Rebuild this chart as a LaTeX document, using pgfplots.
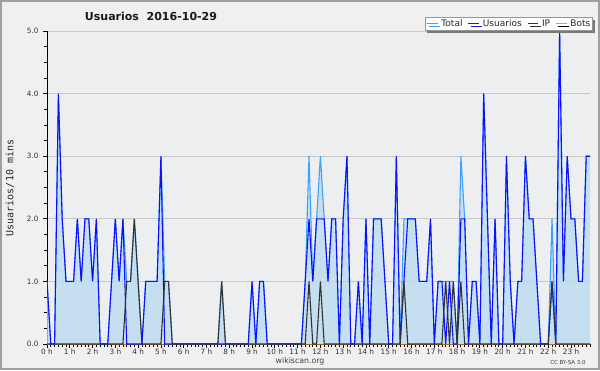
\documentclass[border=0pt]{standalone}
\usepackage{fontspec}
\setmainfont{DejaVu Sans}
\newfontfamily\monofont{DejaVu Sans Mono}
\usepackage{pgfplots}
\usepackage{pgfplotstable}
\pgfplotsset{compat=1.18}
\usetikzlibrary{shadows}

\definecolor{outerbg}{RGB}{240,240,240}
\definecolor{framegray}{RGB}{160,160,160}
\definecolor{plotbg}{RGB}{237,238,240}
\definecolor{gridgray}{RGB}{200,200,200}
\definecolor{fillblue}{RGB}{188,218,240}
\definecolor{totalblue}{RGB}{60,160,255}
\definecolor{userblue}{RGB}{15,15,255}
\definecolor{ipgray}{RGB}{50,50,50}
\definecolor{botsorange}{RGB}{255,153,0}
\definecolor{shadowgray}{RGB}{120,120,120}
\definecolor{legendframe}{RGB}{150,150,150}

% index (10-minute slot), Usuarios, IP, Bots, Total
\pgfplotstableread{
i U IP B T
0 1 0 0 1
1 0 0 0 0
2 0 0 0 0
3 4 0 0 4
4 2 0 0 2
5 1 0 0 1
6 1 0 0 1
7 1 0 0 1
8 2 0 0 2
9 1 0 0 1
10 2 0 0 2
11 2 0 0 2
12 1 0 0 1
13 2 0 0 2
14 0 0 0 0
15 0 0 0 0
16 0 0 0 0
17 1 0 0 1
18 2 0 0 2
19 1 0 0 1
20 2 0 0 2
21 0 1 0 1
22 0 1 0 1
23 0 2 0 2
24 0 1 0 1
25 0 0 0 0
26 1 0 0 1
27 1 0 0 1
28 1 0 0 1
29 1 0 0 1
30 3 0 0 3
31 0 1 0 1
32 0 1 0 1
33 0 0 0 0
34 0 0 0 0
35 0 0 0 0
36 0 0 0 0
37 0 0 0 0
38 0 0 0 0
39 0 0 0 0
40 0 0 0 0
41 0 0 0 0
42 0 0 0 0
43 0 0 0 0
44 0 0 0 0
45 0 0 0 0
46 0 1 0 1
47 0 0 0 0
48 0 0 0 0
49 0 0 0 0
50 0 0 0 0
51 0 0 0 0
52 0 0 0 0
53 0 0 0 0
54 1 0 0 1
55 0 0 0 0
56 1 0 0 1
57 1 0 0 1
58 0 0 0 0
59 0 0 0 0
60 0 0 0 0
61 0 0 0 0
62 0 0 0 0
63 0 0 0 0
64 0 0 0 0
65 0 0 0 0
66 0 0 0 0
67 0 0 0 0
68 1 0 0 1
69 2 1 0 3
70 1 0 0 1
71 2 0 0 2
72 2 1 0 3
73 2 0 0 2
74 1 0 0 1
75 2 0 0 2
76 2 0 0 2
77 0 0 0 0
78 2 0 0 2
79 3 0 0 3
80 0 0 0 0
81 0 0 0 0
82 1 0 0 1
83 0 0 0 0
84 2 0 0 2
85 0 0 0 0
86 2 0 0 2
87 2 0 0 2
88 2 0 0 2
89 1 0 0 1
90 0 0 0 0
91 0 0 0 0
92 3 0 0 3
93 0 0 0 0
94 1 1 0 2
95 2 0 0 2
96 2 0 0 2
97 2 0 0 2
98 1 0 0 1
99 1 0 0 1
100 1 0 0 1
101 2 0 0 2
102 0 0 0 0
103 1 0 0 1
104 1 0 0 1
105 0 1 0 1
106 1 0 0 1
107 0 1 0 1
108 0 0 0 0
109 2 1 0 3
110 2 0 0 2
111 0 0 0 0
112 1 0 0 1
113 1 0 0 1
114 0 0 0 0
115 4 0 0 4
116 2 0 0 2
117 0 0 0 0
118 2 0 0 2
119 0 0 0 0
120 0 0 0 0
121 3 0 0 3
122 1 0 0 1
123 0 0 0 0
124 1 0 0 1
125 1 0 0 1
126 3 0 0 3
127 2 0 0 2
128 2 0 0 2
129 1 0 0 1
130 0 0 0 0
131 0 0 0 0
132 0 0 0 0
133 1 1 0 2
134 0 0 0 0
135 5 0 0 5
136 1 0 0 1
137 3 0 0 3
138 2 0 0 2
139 2 0 0 2
140 1 0 0 1
141 1 0 0 1
142 3 0 0 3
143 3 0 0 3
}\datatable

\begin{document}
\begin{tikzpicture}
\fill[outerbg] (0pt,0pt) rectangle (600pt,370pt);
\draw[framegray, line width=2pt] (1pt,1pt) rectangle (599pt,369pt);

\begin{axis}[
  at={(47pt,26pt)}, anchor=south west,
  scale only axis, width=543pt, height=313pt,
  xmin=0, xmax=143, ymin=0, ymax=5,
  axis x line*=bottom, axis y line*=left,
  axis line style={black, line width=1pt},
  axis background/.style={fill=plotbg},
  xtick={0,6,...,138},
  xticklabels={0 h,1 h,2 h,3 h,4 h,5 h,6 h,7 h,8 h,9 h,10 h,11 h,12 h,13 h,14 h,15 h,16 h,17 h,18 h,19 h,20 h,21 h,22 h,23 h},
  minor xtick={0,1,...,143},
  ytick={0,1,2,3,4,5},
  minor ytick={0.25,0.5,0.75,1.25,1.5,1.75,2.25,2.5,2.75,3.25,3.5,3.75,4.25,4.5,4.75},
  tick align=outside,
  major tick length=4pt, minor tick length=3pt,
  every tick/.style={black, line width=0.8pt},
  ymajorgrids, grid style={gridgray, line width=1pt},
  /pgf/number format/assume math mode=true,
  yticklabel style={/pgf/number format/fixed, /pgf/number format/fixed zerofill, /pgf/number format/precision=1, font=\fontsize{7.3}{8}\selectfont, text=black!80, xshift=-1pt},
  xticklabel style={font=\fontsize{7.3}{8}\selectfont, text=black!80, yshift=2.5pt},
  legend columns=4,
  legend style={at={(axis description cs:1.0055,1.045)}, anchor=north east,
    draw=legendframe, fill=white, line width=0.8pt, inner sep=1.5pt,
    nodes={inner sep=0.8pt, text=black!85},
    font=\fontsize{9}{10}\selectfont,
    drop shadow={shadow xshift=2.5pt, shadow yshift=-2.5pt, fill=shadowgray, opacity=1},
    /tikz/every even column/.append style={column sep=4.5pt},
    /tikz/every odd column/.append style={column sep=2.5pt}},
]
\addplot[botsorange, line width=0.3pt, forget plot] table[x=i, y=B] {\datatable};
\addplot[fill=fillblue, fill opacity=0.8, draw=none, forget plot] table[x=i, y=T] {\datatable} \closedcycle;
\addplot[totalblue, line width=1.1pt, legend image code/.code={\draw[totalblue, line width=1pt] (0pt,0pt) -- (10.7pt,0pt);}] table[x=i, y=T] {\datatable};
\addlegendentry{Total}
\addplot[userblue, line width=1.1pt, legend image code/.code={\draw[userblue, line width=1pt] (0pt,0pt) -- (10.7pt,0pt);}] table[x=i, y=U] {\datatable};
\addlegendentry{Usuarios}
\addplot[ipgray, line width=1.1pt, legend image code/.code={\draw[ipgray, line width=1pt] (0pt,0pt) -- (10.7pt,0pt);}] table[x=i, y=IP] {\datatable};
\addlegendentry{IP}
\addlegendimage{legend image code/.code={\draw[botsorange, line width=1pt] (0pt,0pt) -- (10.7pt,0pt);}}
\addlegendentry{Bots}
\end{axis}

\node[font=\bfseries\fontsize{11}{12}\selectfont, text=black!90] at (151pt,354pt) {Usuarios\ \ 2016-10-29};
\node[rotate=90, font=\monofont\fontsize{10}{11}\selectfont, text=black!85] at (10pt,182pt) {Usuarios/10 mins};
\node[font=\fontsize{7.8}{9}\selectfont, text=black!75] at (300pt,9pt) {wikiscan.org};
\node[font=\fontsize{5.5}{6}\selectfont, text=black!75] at (568pt,8pt) {CC BY-SA 3.0};
\end{tikzpicture}
\end{document}
